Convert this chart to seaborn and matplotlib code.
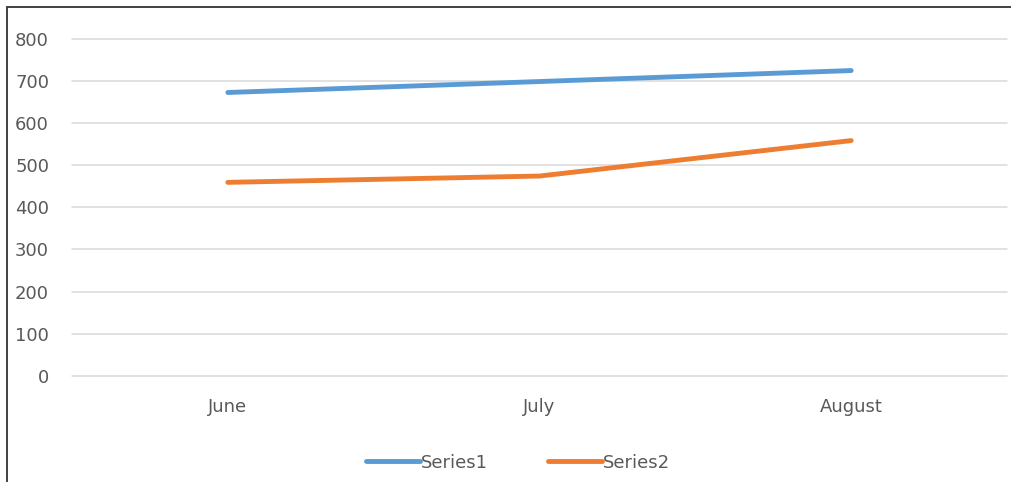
import matplotlib
matplotlib.use("Agg")
import matplotlib.pyplot as plt
from matplotlib.lines import Line2D
import seaborn as sns
import pandas as pd

# Monthly values for the two series
months = ["June", "July", "August"]
series1 = [672, 698, 724]
series2 = [459, 474, 558]
series_names = ["Series1", "Series2"]
y_ticks = [0, 100, 200, 300, 400, 500, 600, 700, 800]

df = pd.DataFrame({
    "month": months * 2,
    "value": series1 + series2,
    "series": [series_names[0]] * len(months) + [series_names[1]] * len(months),
})

sns.set_theme(style="white")
plt.rcParams["font.family"] = ["DejaVu Sans"]

text_color = "#595959"
fig = plt.figure(figsize=(10.12, 4.82), dpi=100)
ax = fig.add_axes([72 / 1012, 1 - 376 / 482, (1007 - 72) / 1012, (376 - 38.5) / 482])

sns.lineplot(
    data=df, x="month", y="value", hue="series", sort=False,
    palette={"Series1": "#5B9BD5", "Series2": "#ED7D31"},
    linewidth=3.5, ax=ax, legend=False,
)
for line in ax.lines:
    line.set_solid_capstyle("round")
    line.set_solid_joinstyle("round")

ax.set_xlim(-0.5, len(months) - 0.5)
ax.set_ylim(0, 800)
ax.set_yticks(y_ticks)
ax.set_xlabel("")
ax.set_ylabel("")
ax.grid(axis="y", color="#D9D9D9", linewidth=1.1)
for gl in ax.get_ygridlines():
    gl.set_clip_on(False)
ax.set_axisbelow(True)
for spine in ax.spines.values():
    spine.set_visible(False)
ax.tick_params(axis="y", length=0, pad=16.5, labelsize=13, labelcolor=text_color)
ax.tick_params(axis="x", length=0, pad=16, labelsize=13, labelcolor=text_color)

# Legend below the plot
handles = [Line2D([0], [0], color="#5B9BD5", linewidth=3.5, solid_capstyle="round"),
           Line2D([0], [0], color="#ED7D31", linewidth=3.5, solid_capstyle="round")]
leg = fig.legend(handles, series_names, loc="center", ncol=2, frameon=False,
                 bbox_to_anchor=(518 / 1012, 1 - 462.7 / 482),
                 fontsize=13, handlelength=3.0, handletextpad=0.05,
                 columnspacing=3.3)
for t in leg.get_texts():
    t.set_color(text_color)

# Chart frame (left and top edges)
frame_color = "#404040"
fig.add_artist(Line2D([7 / 1012, 7 / 1012], [0, 1 - 7 / 482], color=frame_color,
                      linewidth=1.4, transform=fig.transFigure))
fig.add_artist(Line2D([7 / 1012, 1], [1 - 7 / 482, 1 - 7 / 482], color=frame_color,
                      linewidth=1.4, transform=fig.transFigure))

fig.savefig("out.png", dpi=100)
